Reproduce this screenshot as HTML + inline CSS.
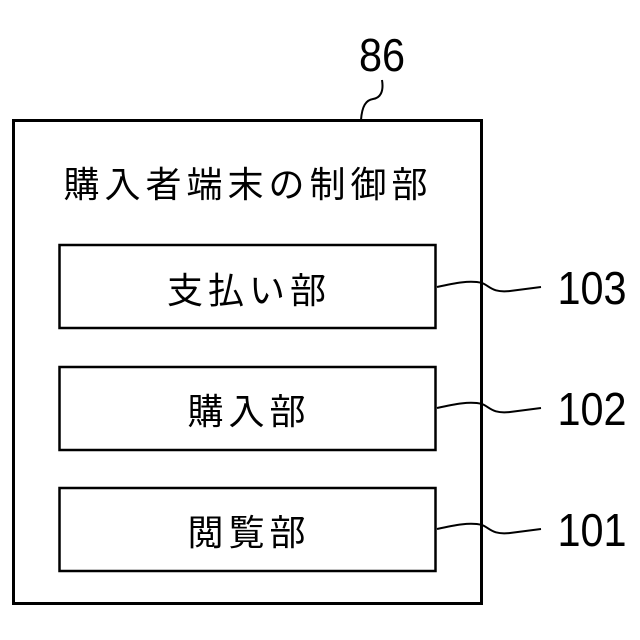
<!DOCTYPE html>
<html><head><meta charset="utf-8"><style>
body{margin:0;background:#fff;width:640px;height:640px;overflow:hidden}
svg{display:block}
text{font-family:"Liberation Sans","Noto Sans CJK JP",sans-serif;fill:#000}
</style></head><body>
<svg width="640" height="640" viewBox="0 0 640 640">
<rect x="13.5" y="120.5" width="468" height="483" fill="none" stroke="#000" stroke-width="3"/>
<rect x="59.5" y="245" width="376" height="83" fill="none" stroke="#000" stroke-width="2.5"/>
<rect x="59.5" y="367" width="376" height="83" fill="none" stroke="#000" stroke-width="2.5"/>
<rect x="59.5" y="488" width="376" height="83" fill="none" stroke="#000" stroke-width="2.5"/>
<text x="248" y="197" font-size="36" text-anchor="middle" letter-spacing="5">購入者端末の制御部</text>
<text x="249" y="303" font-size="36" text-anchor="middle" letter-spacing="5">支払い部</text>
<text x="249" y="424" font-size="36" text-anchor="middle" letter-spacing="5">購入部</text>
<text x="249" y="545" font-size="36" text-anchor="middle" letter-spacing="5">閲覧部</text>
<g fill="none" stroke="#000" stroke-width="2">
<path d="M437 287 C455 283,470 280,482 283 C490 286,492 293,510 291 L541 287"/>
<path d="M437 408 C455 404,470 401,482 404 C490 407,492 414,510 412 L541 408"/>
<path d="M437 529 C455 525,470 522,482 525 C490 528,492 535,510 533 L541 529"/>
<path d="M382 80 C384 92,380 98,373 99 C366 100,362 106,361 120"/>
</g>
<text x="592" y="304" font-size="46" text-anchor="middle" transform="translate(592 0) scale(0.9 1) translate(-592 0)">103</text>
<text x="592" y="425" font-size="46" text-anchor="middle" transform="translate(592 0) scale(0.9 1) translate(-592 0)">102</text>
<text x="592" y="546" font-size="46" text-anchor="middle" transform="translate(592 0) scale(0.9 1) translate(-592 0)">101</text>
<text x="382" y="71" font-size="46" text-anchor="middle" transform="translate(382 0) scale(0.9 1) translate(-382 0)">86</text>
</svg>
</body></html>
